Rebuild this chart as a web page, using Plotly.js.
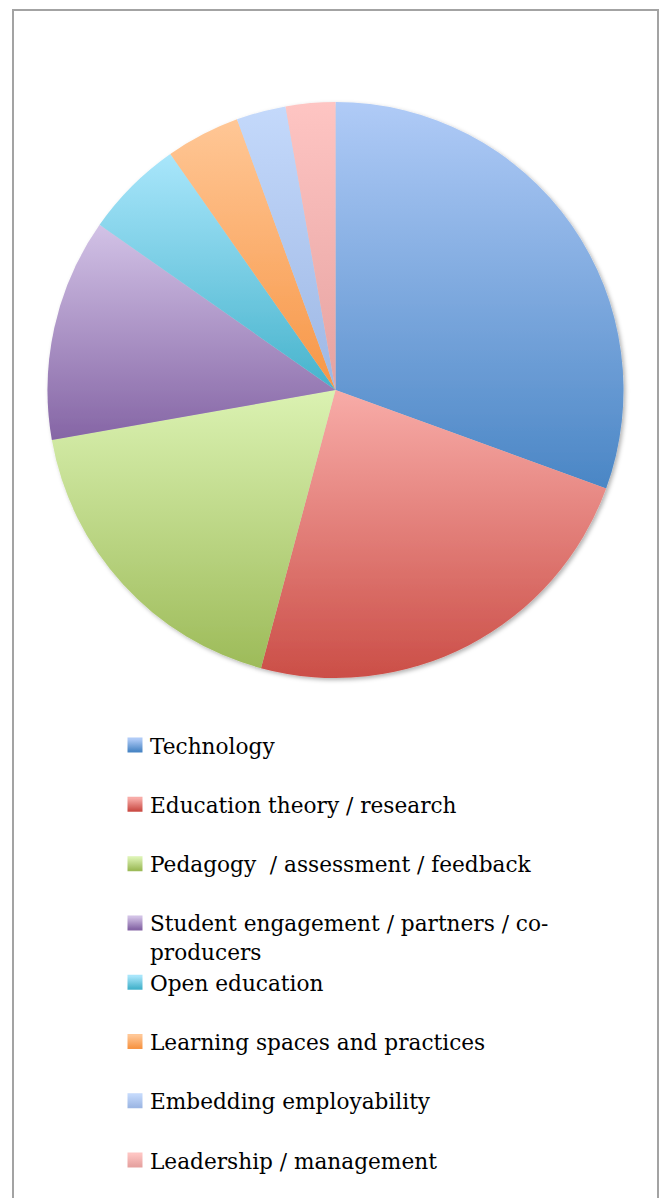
<!DOCTYPE html>
<html>
<head>
<meta charset="utf-8">
<script src="https://cdn.plot.ly/plotly-3.0.1.min.js"></script>
<style>
html,body{margin:0;padding:0;background:#fff;}
#chart{width:664px;height:1198px;}
</style>
</head>
<body>
<div id="chart"></div>
<script>
var categories = [
  "Technology",
  "Education theory / research",
  "Pedagogy  / assessment / feedback",
  "Student engagement / partners / co-<br>producers",
  "Open education",
  "Learning spaces and practices",
  "Embedding employability",
  "Leadership / management"
];
var counts = [22, 17, 13, 9, 4, 3, 2, 2];
var sliceColors = ["#79a2dc", "#df7d79", "#bdd98c", "#a48dc0", "#80c9de", "#fbac69", "#b4cbf0", "#f2b6b4"];
var gradientTop = ["#b0cbf7", "#f8aca8", "#dbf2b2", "#d2c2e6", "#a9e6fb", "#ffc796", "#c4d9fb", "#fec5c3"];
var gradientBottom = ["#4a86c5", "#cb4e47", "#9dbb59", "#8565a5", "#46b3cc", "#f79646", "#9db7e4", "#e6a2a0"];

// each legend entry occupies two lines (as in the reference)
var legendLabels = categories.map(function (c, i) {
  if (c.indexOf("<br>") >= 0 || i === categories.length - 1) return c;
  return c + "<br>\u00a0";
});

var W = 664, H = 1198;
var cx = 335.5, cy = 390, r = 288;

var data = [{
  type: "pie",
  labels: legendLabels,
  values: counts,
  sort: false,
  direction: "clockwise",
  rotation: 0,
  textinfo: "none",
  hoverinfo: "label+value+percent",
  marker: {colors: sliceColors, line: {width: 0}},
  domain: {
    x: [(cx - r) / W, (cx + r) / W],
    y: [(H - cy - r) / H, (H - cy + r) / H]
  }
}];

var layout = {
  width: W,
  height: H,
  margin: {l: 0, r: 0, t: 0, b: 0},
  paper_bgcolor: "#ffffff",
  showlegend: true,
  legend: {
    x: (150 - 40) / W,
    xanchor: "left",
    y: (H - 724.5) / H,
    yanchor: "top",
    valign: "top",
    font: {family: "DejaVu Serif", size: 21.65, color: "#000000"},
    bgcolor: "rgba(0,0,0,0)"
  },
  shapes: [{
    type: "rect", xref: "paper", yref: "paper",
    x0: 13 / W, x1: 658 / W, y0: -0.02, y1: (H - 10) / H,
    line: {color: "#a3a3a3", width: 2}
  }]
};

function addGradients(gd) {
  var NS = "http://www.w3.org/2000/svg";
  var svg = gd.querySelector("svg.main-svg");
  var defs = svg.querySelector("defs");
  if (!defs) { defs = document.createElementNS(NS, "defs"); svg.insertBefore(defs, svg.firstChild); }
  gradientTop.forEach(function (top, i) {
    var lg = document.createElementNS(NS, "linearGradient");
    lg.setAttribute("id", "sliceGrad" + i);
    lg.setAttribute("x1", "0"); lg.setAttribute("y1", "0");
    lg.setAttribute("x2", "0"); lg.setAttribute("y2", "1");
    var s0 = document.createElementNS(NS, "stop");
    s0.setAttribute("offset", "0"); s0.setAttribute("stop-color", top);
    var s1 = document.createElementNS(NS, "stop");
    s1.setAttribute("offset", "1"); s1.setAttribute("stop-color", gradientBottom[i]);
    lg.appendChild(s0); lg.appendChild(s1);
    defs.appendChild(lg);
  });
  var flt = document.createElementNS(NS, "filter");
  flt.setAttribute("id", "pieShadow");
  flt.setAttribute("x", "-5%"); flt.setAttribute("y", "-5%");
  flt.setAttribute("width", "110%"); flt.setAttribute("height", "110%");
  var ds = document.createElementNS(NS, "feDropShadow");
  ds.setAttribute("dx", "2"); ds.setAttribute("dy", "2");
  ds.setAttribute("stdDeviation", "2");
  ds.setAttribute("flood-color", "#000"); ds.setAttribute("flood-opacity", "0.3");
  flt.appendChild(ds);
  defs.appendChild(flt);

  var slices = gd.querySelectorAll(".pielayer g.slice path.surface");
  slices.forEach(function (p, i) { p.style.fill = "url(#sliceGrad" + (i % gradientTop.length) + ")"; });
  var trace = gd.querySelector(".pielayer g.trace");
  if (trace) trace.setAttribute("filter", "url(#pieShadow)");

  var leg = gd.querySelectorAll(".legend path.legendpie");
  leg.forEach(function (p, i) {
    p.style.fill = "url(#sliceGrad" + i + ")";
    p.style.stroke = "url(#sliceGrad" + i + ")";
    p.style.strokeWidth = "3px";
    var t = p.getAttribute("transform") || "";
    p.setAttribute("transform", t + " translate(5,0)");
  });
}

Plotly.newPlot("chart", data, layout, {staticPlot: true, displayModeBar: false}).then(addGradients);
</script>
</body>
</html>
